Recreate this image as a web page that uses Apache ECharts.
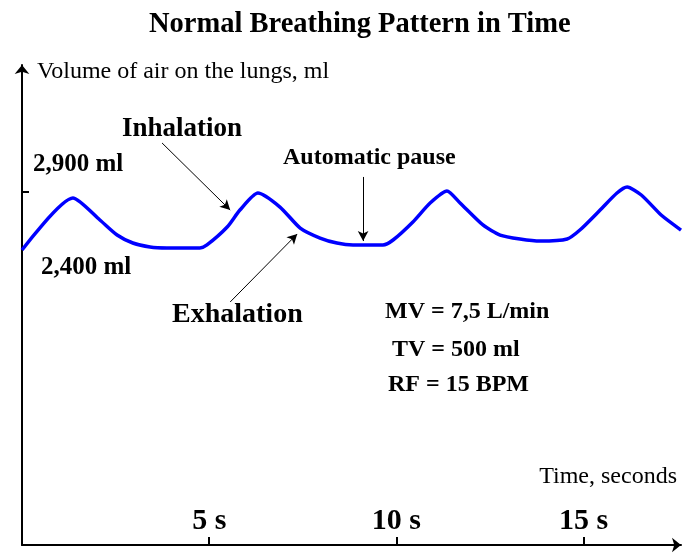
<!DOCTYPE html>
<html>
<head>
<meta charset="utf-8">
<script src="https://cdn.jsdelivr.net/npm/echarts@6/dist/echarts.min.js"></script>
<style>
  html, body { margin: 0; padding: 0; background: #fff; }
  #main { width: 683px; height: 553px; }
</style>
</head>
<body>
<div id="main"></div>
<script>
var myChart = echarts.init(document.getElementById('main'));

// breathing curve: time (s) / volume (ml)
var times = [0, 1.36, 2.08, 2.54, 2.96, 3.42, 3.87, 4.75, 4.94, 5.48, 5.82, 6.30,
  6.89, 7.43, 7.96, 8.41, 8.84, 9.64, 9.91, 10.44, 10.90, 11.35,
  11.70, 12.31, 12.77, 13.30, 13.84, 14.56, 14.90, 15.44, 15.89, 16.16,
  16.54, 17.07, 17.60];
var volumes = [2400, 2850, 2660, 2530, 2461, 2426, 2418, 2418, 2444, 2599, 2746, 2893,
  2772, 2590, 2504, 2461, 2444, 2444, 2487, 2643, 2807, 2911,
  2807, 2617, 2530, 2496, 2478, 2496, 2573, 2746, 2893, 2945,
  2876, 2703, 2573];

var xTicks = [5, 10, 15];
var yTicks = [2900];
var xMax = 17.6;
var yMin = -150, yMax = 4000;

// arrows: [from, to] in data units
var inhaleArrow = [[3.74, 3326], [5.56, 2746]];
var exhaleArrow = [[5.56, 1951], [7.35, 2539]];
var pauseArrow = [[9.11, 3032], [9.11, 2478]];

var seriesData = [];
for (var i = 0; i < times.length; i++) {
  seriesData.push([times[i], volumes[i]]);
}

function arrow(a) {
  return [{ coord: a[0] }, { coord: a[1] }];
}

var serif = 'Liberation Serif';
function txt(x, y, s, size, bold) {
  return {
    type: 'text', left: x, top: y,
    style: {
      text: s, fill: '#000', fontFamily: serif, fontSize: size,
      fontWeight: bold ? 'bold' : 'normal'
    }
  };
}

var option = {
  animation: false,
  title: {
    text: 'Normal Breathing Pattern in Time',
    left: 144, top: 5,
    textStyle: { fontFamily: serif, fontSize: 28.5, fontWeight: 'bold', color: '#000' }
  },
  grid: { left: 22, right: 2, top: 65, bottom: 8, outerBoundsMode: 'none' },
  xAxis: {
    type: 'value', min: 0, max: xMax,
    name: 'Time, seconds',
    nameLocation: 'end',
    nameGap: -4,
    nameTextStyle: {
      fontFamily: serif, fontSize: 24, color: '#000',
      align: 'right', verticalAlign: 'bottom', padding: [0, 0, 56, 0]
    },
    axisLine: {
      onZero: false,
      lineStyle: { color: '#000', width: 2 },
      symbol: ['none', 'arrow'], symbolSize: [11, 9]
    },
    axisTick: { inside: true, length: 8, customValues: xTicks, lineStyle: { width: 2, color: '#000' } },
    axisLabel: {
      inside: true, customValues: xTicks, margin: 9,
      formatter: '{value} s', color: '#000',
      fontFamily: serif, fontSize: 30, fontWeight: 'bold'
    },
    splitLine: { show: false }
  },
  yAxis: {
    type: 'value', min: yMin, max: yMax,
    name: 'Volume of air on the lungs, ml',
    nameLocation: 'end',
    nameGap: -7,
    nameTextStyle: {
      fontFamily: serif, fontSize: 24, color: '#000',
      align: 'left', verticalAlign: 'middle', padding: [0, 0, 0, 15]
    },
    axisLine: {
      show: true, onZero: false,
      lineStyle: { color: '#000', width: 2 },
      symbol: ['none', 'arrow'], symbolSize: [11, 9]
    },
    axisTick: { show: true, inside: true, length: 7, customValues: yTicks, lineStyle: { width: 2, color: '#000' } },
    axisLabel: { show: false },
    splitLine: { show: false }
  },
  graphic: [
    txt(122, 116, 'Inhalation', 27, true),
    txt(33, 152, '2,900 ml', 25, true),
    txt(283, 146, 'Automatic pause', 24, true),
    txt(41, 255, '2,400 ml', 25, true),
    txt(172, 301, 'Exhalation', 28, true),
    txt(385, 300, 'MV = 7,5 L/min', 24, true),
    txt(392, 338, 'TV = 500 ml', 24, true),
    txt(388, 373, 'RF = 15 BPM', 24, true)
  ],
  series: [{
    type: 'line',
    data: seriesData,
    smooth: 0.22,
    showSymbol: false,
    lineStyle: { color: '#0000ff', width: 3.5 },
    markLine: {
      silent: true,
      symbol: ['none', 'arrow'],
      symbolSize: [8, 10],
      label: { show: false },
      lineStyle: { color: '#000', width: 1, type: 'solid' },
      data: [arrow(inhaleArrow), arrow(exhaleArrow), arrow(pauseArrow)]
    }
  }]
};

myChart.setOption(option);
</script>
</body>
</html>
